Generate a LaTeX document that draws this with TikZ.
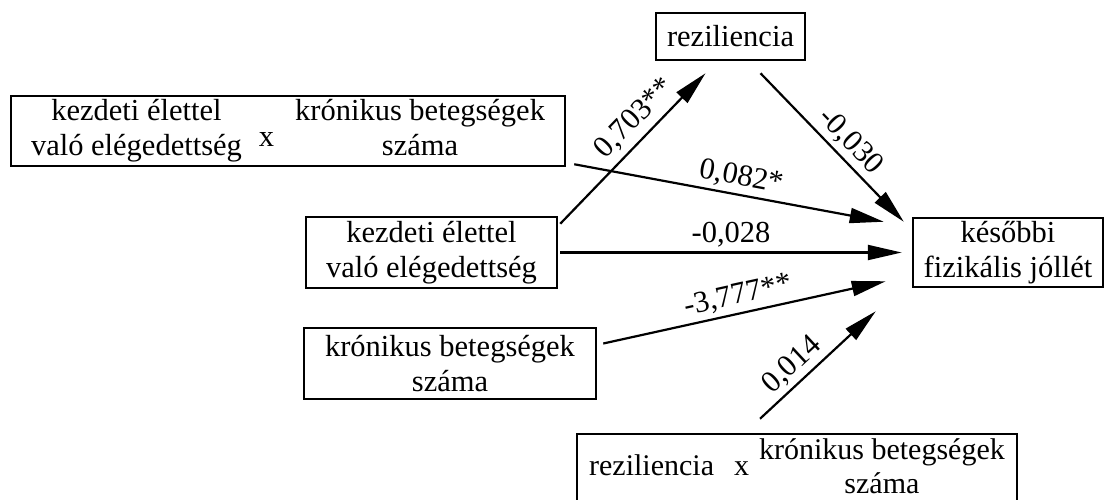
\documentclass[tikz,border=0pt]{standalone}
\usepackage{fontspec}
\setmainfont{Liberation Serif}
\usetikzlibrary{arrows.meta}
\begin{document}
\begin{tikzpicture}[x=1pt,y=-1pt,
  box/.style={draw, line width=2.5pt, align=center, inner sep=0pt, font=\fontsize{30.5}{34.5}\selectfont},
  arr/.style={line width=2.2pt, -{Triangle[length=34pt,width=15pt]}},
  lab/.style={font=\fontsize{30.5}{34}\selectfont, sloped, above, inner sep=4pt}
]
\useasboundingbox (0,0) rectangle (1110,499);
\node[box, minimum width=149pt, minimum height=47pt] (rez) at (730.5,36.5) {reziliencia};
\node[box, minimum width=554pt, minimum height=70pt] (int1) at (288,131)
  {\begin{tabular}{@{}c@{}}kezdeti élettel\\való elégedettség\end{tabular}\hspace{17pt}\raisebox{-9pt}{x}\hspace{21pt}\begin{tabular}{@{}c@{}}krónikus betegségek\\száma\end{tabular}};
\node[box, minimum width=251pt, minimum height=71pt] (kez) at (431.5,252.5) {kezdeti élettel\\való elégedettség};
\node[box, minimum width=292pt, minimum height=71pt] (kron) at (450,363.5) {krónikus betegségek\\száma};
\node[box, minimum width=190pt, minimum height=69pt] (later) at (1008,252.5) {későbbi\\fizikális jóllét};
\node[box, minimum width=440pt, minimum height=71pt, font=\fontsize{30}{34}\selectfont] (int2) at (797,469.5)
  {reziliencia\hspace{20pt}x\hspace{10pt}\begin{tabular}{@{}c@{}}krónikus betegségek\\száma\end{tabular}};

\draw[arr] ([shift={(2,8)}]kez.north east) -- node[lab, pos=0.61, inner sep=6pt] {0,703**} ([shift={(-25,12)}]rez.south);
\draw[arr] ([shift={(30,12)}]rez.south) -- node[lab, pos=0.54] {-0,030} ([shift={(-8,5)}]later.north west);
\draw[arr] ([shift={(8,-3)}]int1.south east) -- node[lab, pos=0.53] {0,082*} ([shift={(-28,5)}]later.north west);
\draw[arr] ([xshift=2pt]kez.east) -- node[lab, pos=0.5] {-0,028} ([xshift=-10pt]later.west);
\draw[arr] ([shift={(6,-20)}]kron.east) -- node[lab, pos=0.49] {-3,777**} ([shift={(-26,-7)}]later.south west);
\draw[arr] ([shift={(-37,-14)}]int2.north) -- node[lab, pos=0.38] {0,014} ([shift={(-36,23)}]later.south west);
\end{tikzpicture}
\end{document}
